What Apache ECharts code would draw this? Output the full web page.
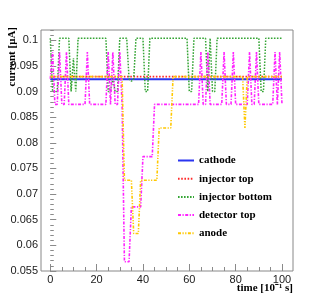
<!DOCTYPE html>
<html><head><meta charset="utf-8">
<script src="https://cdn.jsdelivr.net/npm/echarts@6/dist/echarts.min.js"></script>
<style>html,body{margin:0;padding:0;background:#fff}#c{width:315px;height:302px}</style>
</head><body><div id="c"></div>
<script>
const time = [0,1,2,3,4,5,6,7,8,9,10,11,12,13,14,15,16,17,18,19,20,21,22,23,24,25,26,27,28,29,30,31,32,33,34,35,36,37,38,39,40,41,42,43,44,45,46,47,48,49,50,51,52,53,54,55,56,57,58,59,60,61,62,63,64,65,66,67,68,69,70,71,72,73,74,75,76,77,78,79,80,81,82,83,84,85,86,87,88,89,90,91,92,93,94,95,96,97,98,99,100];

const cathode = [
0.0924,0.0924,0.0924,0.0924,0.0924,0.0924,0.0924,0.0924,0.0924,0.0924,
0.0924,0.0924,0.0924,0.0924,0.0924,0.0924,0.0924,0.0924,0.0924,0.0924,
0.0924,0.0924,0.0924,0.0924,0.0924,0.0924,0.0924,0.0924,0.0924,0.0924,
0.0924,0.0924,0.0924,0.0924,0.0924,0.0924,0.0924,0.0924,0.0924,0.0924,
0.0924,0.0924,0.0924,0.0924,0.0924,0.0924,0.0924,0.0924,0.0924,0.0924,
0.0924,0.0924,0.0924,0.0924,0.0924,0.0924,0.0924,0.0924,0.0924,0.0924,
0.0924,0.0924,0.0924,0.0924,0.0924,0.0924,0.0924,0.0924,0.0924,0.0924,
0.0924,0.0924,0.0924,0.0924,0.0924,0.0924,0.0924,0.0924,0.0924,0.0924,
0.0924,0.0924,0.0924,0.0924,0.0924,0.0924,0.0924,0.0924,0.0924,0.0924,
0.0924,0.0924,0.0924,0.0924,0.0924,0.0924,0.0924,0.0924,0.0924,0.0924,
0.0924];

const injectorTop = [
0.0929,0.0929,0.0929,0.0929,0.0929,0.0929,0.0929,0.0929,0.0929,0.0929,
0.0929,0.0929,0.0929,0.0929,0.0929,0.0929,0.0929,0.0929,0.0929,0.0929,
0.0929,0.0929,0.0929,0.0929,0.0929,0.0929,0.0929,0.0929,0.0929,0.0929,
0.0929,0.0929,0.0929,0.0929,0.0929,0.0929,0.0929,0.0929,0.0929,0.0929,
0.0929,0.0929,0.0929,0.0929,0.0929,0.0929,0.0929,0.0929,0.0929,0.0929,
0.0929,0.0929,0.0929,0.0929,0.0929,0.0929,0.0929,0.0929,0.0929,0.0929,
0.0929,0.0929,0.0929,0.0929,0.0929,0.0929,0.0929,0.0929,0.0929,0.0929,
0.0929,0.0929,0.0929,0.0929,0.0929,0.0929,0.0929,0.0929,0.0929,0.0929,
0.0929,0.0929,0.0929,0.0929,0.0929,0.0929,0.0929,0.0929,0.0929,0.0929,
0.0929,0.0929,0.0929,0.0929,0.0929,0.0929,0.0929,0.0929,0.0929,0.0929,
0.0929];

const injectorBottom = [
0.1004,0.09,0.09,0.09,0.1004,0.1004,0.1004,0.1004,0.1004,0.09,
0.0965,0.09,0.1004,0.1004,0.1004,0.1004,0.1004,0.1004,0.1004,0.1004,
0.1004,0.1004,0.1004,0.1004,0.1004,0.09,0.09,0.0925,0.09,0.09,
0.1004,0.1004,0.1004,0.1004,0.0925,0.092,0.0925,0.1004,0.1004,0.1004,
0.1004,0.09,0.09,0.1004,0.1004,0.1004,0.1004,0.1004,0.1004,0.1004,
0.1004,0.1004,0.1004,0.1004,0.1004,0.1004,0.1004,0.1004,0.1004,0.1004,
0.09,0.09,0.1004,0.1004,0.1004,0.1004,0.1004,0.1004,0.09,0.1004,
0.09,0.09,0.1004,0.1004,0.1004,0.1004,0.1004,0.1004,0.1004,0.1004,
0.1004,0.1004,0.1004,0.1004,0.1004,0.1004,0.1004,0.1004,0.1004,0.1004,
0.1004,0.09,0.09,0.1004,0.1004,0.1004,0.1004,0.1004,0.1004,0.1004,
0.1004];

const detectorTop = [
0.0925,0.0977,0.0875,0.0875,0.0977,0.0875,0.0875,0.0977,0.0875,0.0875,
0.0875,0.0875,0.0875,0.0875,0.0875,0.0875,0.0977,0.0875,0.0875,0.0875,
0.0875,0.0875,0.0875,0.0875,0.0875,0.0977,0.0875,0.0977,0.0875,0.0875,
0.0977,0.0875,0.0568,0.0568,0.0568,0.0675,0.0675,0.0675,0.0675,0.0675,
0.0773,0.0773,0.0773,0.0773,0.0773,0.0875,0.0875,0.0875,0.0875,0.0875,
0.0875,0.0875,0.0875,0.0875,0.0875,0.0875,0.0875,0.0875,0.0875,0.0875,
0.0875,0.0875,0.0875,0.0875,0.0875,0.0977,0.0875,0.0875,0.0977,0.0875,
0.0875,0.0875,0.0875,0.0875,0.0875,0.0977,0.0875,0.0875,0.0875,0.0977,
0.0875,0.0875,0.0875,0.0875,0.0875,0.0875,0.0977,0.0875,0.0875,0.0977,
0.0875,0.0875,0.0875,0.0875,0.0875,0.0875,0.0875,0.0977,0.0875,0.0977,
0.0875];

const anode = [
0.0929,0.0929,0.0929,0.0929,0.0929,0.0929,0.0929,0.0929,0.0929,0.0929,
0.0929,0.0929,0.0929,0.0929,0.0929,0.0929,0.0929,0.0929,0.0929,0.0929,
0.0929,0.0929,0.0929,0.0929,0.0929,0.0929,0.0929,0.0929,0.0929,0.0929,
0.0929,0.0929,0.0727,0.0727,0.0727,0.0727,0.0623,0.0623,0.0623,0.0727,
0.0727,0.0727,0.0727,0.0727,0.0727,0.0727,0.0727,0.0829,0.0829,0.0829,
0.0829,0.0829,0.0829,0.0929,0.0929,0.0929,0.0929,0.0929,0.0929,0.0929,
0.0929,0.0929,0.0929,0.0929,0.0929,0.0929,0.0929,0.0929,0.0929,0.0929,
0.0929,0.0929,0.0929,0.0929,0.0929,0.0929,0.0929,0.0929,0.0929,0.0929,
0.0929,0.0929,0.0929,0.0929,0.0829,0.0929,0.0929,0.0929,0.0929,0.0929,
0.0929,0.0929,0.0929,0.0929,0.0929,0.0929,0.0929,0.0929,0.0929,0.0929,
0.0929];

const seriesNames = ['cathode','injector top','injector bottom','detector top','anode'];
const xTicks = [0,20,40,60,80,100];
const yTicks = [0.055,0.06,0.065,0.07,0.075,0.08,0.085,0.09,0.095,0.1];
const xTitle = 'time [10\u207B\u00B9 s]';
const yTitle = 'current [\u03BCA]';

const X_MIN = -4, X_MAX = 104.75, Y_MIN = 0.055, Y_MAX = 0.102;
const xMinor = []; for (let v = 0; v <= 100; v += 5) xMinor.push(v);
const yMinor = []; for (let k = 55; k <= 102; k++) yMinor.push(k / 1000);

const pairs = arr => time.map((t, i) => [t, arr[i]]);
const tickColor = '#8a8a8a';

const styles = [
  {color:'#2a35f0', width:2.2, type:'solid'},
  {color:'#ff2a2a', width:1.6, type:[1.6,1.6]},
  {color:'#35a535', width:1.5, type:[1.6,1.4]},
  {color:'#ff22ff', width:1.6, type:[3,1.5,1.2,1.5]},
  {color:'#ffc800', width:1.6, type:[3,1.5,1.2,1.5,1.2,1.5]}
];
const dataSets = [cathode, injectorTop, injectorBottom, detectorTop, anode];

const chart = echarts.init(document.getElementById('c'), null, {renderer:'canvas'});
chart.setOption({
  animation:false,
  backgroundColor:'#fff',
  grid:{left:41, right:22, top:30, bottom:31, show:true, borderColor:'#888', borderWidth:1, backgroundColor:'transparent'},
  xAxis:[{
    type:'value', min:X_MIN, max:X_MAX, position:'bottom',
    axisLine:{show:false}, splitLine:{show:false},
    axisTick:{inside:true, length:7, customValues:xTicks, lineStyle:{color:tickColor}},
    axisLabel:{customValues:xTicks, margin:3, fontSize:11, color:'#1a1a1a', fontFamily:'Liberation Sans'}
  },{
    type:'value', min:X_MIN, max:X_MAX, position:'bottom',
    axisLine:{show:false}, splitLine:{show:false},
    axisTick:{inside:true, length:4, customValues:xMinor, lineStyle:{color:tickColor}},
    axisLabel:{show:false}
  }],
  yAxis:[{
    type:'value', min:Y_MIN, max:Y_MAX, position:'left',
    axisLine:{show:false}, splitLine:{show:false},
    axisTick:{inside:true, length:6, customValues:yTicks, lineStyle:{color:tickColor}},
    axisLabel:{customValues:yTicks, margin:3, fontSize:11, color:'#1a1a1a', fontFamily:'Liberation Sans',
      formatter:v => String(parseFloat(Number(v).toFixed(4)))}
  },{
    type:'value', min:Y_MIN, max:Y_MAX, position:'left',
    axisLine:{show:false}, splitLine:{show:false},
    axisTick:{inside:true, length:3.5, customValues:yMinor, lineStyle:{color:tickColor}},
    axisLabel:{show:false}
  }],
  legend:{
    orient:'vertical', left:177, top:155, padding:0,
    itemWidth:16, itemHeight:12, itemGap:7.2,
    data:seriesNames,
    itemStyle:{opacity:0, borderWidth:0},
    textStyle:{fontSize:11, fontWeight:'bold', fontFamily:'Liberation Serif', color:'#000'}
  },
  graphic:[
    {type:'text', right:22, top:283, style:{text:xTitle, font:'bold 11px "Liberation Serif"', fill:'#000'}},
    {type:'text', x:12, y:27, rotation:Math.PI/2, style:{text:yTitle, font:'bold 11px "Liberation Serif"', fill:'#000', align:'right', verticalAlign:'middle'}}
  ],
  series: seriesNames.map((n, i) => ({
    name:n, type:'line', data:pairs(dataSets[i]), symbol:'none', showSymbol:false,
    xAxisIndex:0, yAxisIndex:0,
    lineStyle:{color:styles[i].color, width:styles[i].width, type:styles[i].type},
    itemStyle:{color:styles[i].color},
    z:2+i
  }))
});
</script></body></html>
